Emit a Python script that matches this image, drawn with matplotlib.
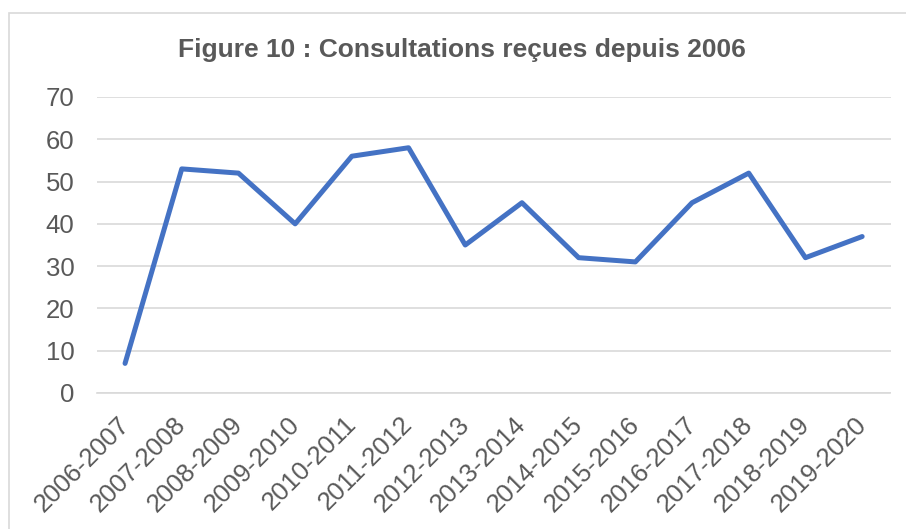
import matplotlib as mpl
mpl.use('Agg')
import matplotlib.pyplot as plt
import matplotlib.transforms as mtransforms
from matplotlib.patches import Rectangle

plt.rcParams['font.family'] = ['Liberation Sans', 'DejaVu Sans']

# Data
seasons = ['2006-2007', '2007-2008', '2008-2009', '2009-2010', '2010-2011',
           '2011-2012', '2012-2013', '2013-2014', '2014-2015', '2015-2016',
           '2016-2017', '2017-2018', '2018-2019', '2019-2020']
consultations = [7, 53, 52, 40, 56, 58, 35, 45, 32, 31, 45, 52, 32, 37]
y_ticks = [0, 10, 20, 30, 40, 50, 60, 70]

TEXT = '#595959'
BLUE = '#4472C4'
GRID = '#D9D9D9'

W, H = 906, 529
fig = plt.figure(figsize=(W / 100, H / 100), dpi=100)

# light chart-area border (runs off the right and bottom of the picture)
fig.patches.append(Rectangle((9 / W, -0.05), 1.0, 1 - 13 / H + 0.05,
                             transform=fig.transFigure, fill=False,
                             edgecolor='#D9D9D9', linewidth=1.2))

ax = fig.add_axes([96.7 / W, 1 - 393 / H, (890.5 - 96.7) / W, (393 - 97) / H])

x = range(len(seasons))
ax.plot(x, consultations, color=BLUE, linewidth=3.6,
        solid_capstyle='round', solid_joinstyle='round', zorder=3)

ax.set_xlim(-0.5, len(seasons) - 0.5)
ax.set_ylim(0, 70)
ax.set_yticks(y_ticks)
ax.set_yticklabels([str(v) for v in y_ticks])
ax.set_xticks(list(x))
ax.set_xticklabels(seasons, rotation=45, ha='right', rotation_mode='anchor')

ax.yaxis.grid(True, color=GRID, linewidth=1.2)
ax.set_axisbelow(True)
for side in ['top', 'right', 'left']:
    ax.spines[side].set_visible(False)
ax.spines['bottom'].set_color(GRID)
ax.spines['bottom'].set_linewidth(1.2)

ax.tick_params(axis='both', length=0, colors=TEXT, labelsize=18.5)
ax.tick_params(axis='y', pad=16)
ax.tick_params(axis='x', pad=8)

# nudge the slanted labels down-left like the original
shift = mtransforms.ScaledTranslation(-8 / 100, -8 / 100, fig.dpi_scale_trans)
for lbl in ax.get_xticklabels():
    lbl.set_transform(lbl.get_transform() + shift)

fig.text(462 / W, 1 - 50 / H, 'Figure 10 : Consultations reçues depuis 2006',
         ha='center', va='center', fontsize=19, fontweight='bold', color=TEXT)

fig.savefig('out.png', dpi=100, facecolor='white')
